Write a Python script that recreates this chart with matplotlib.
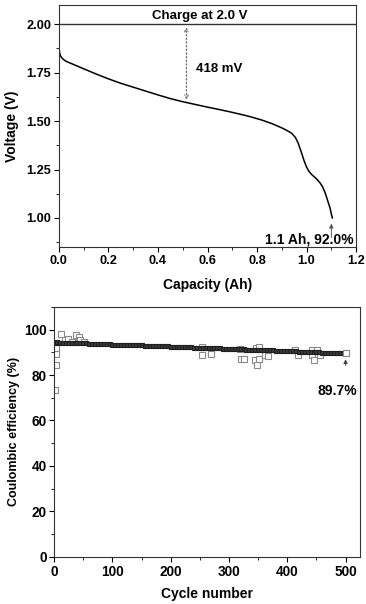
import matplotlib
matplotlib.use('Agg')
import matplotlib.pyplot as plt
from matplotlib.ticker import MultipleLocator
import numpy as np

plt.rcParams['font.family'] = ['Liberation Sans', 'DejaVu Sans']
plt.rcParams['font.weight'] = 'bold'
plt.rcParams['axes.labelweight'] = 'bold'

# discharge curve (capacity in Ah, voltage in V)
cap = [0.0, 0.001, 0.003, 0.007, 0.012, 0.02, 0.03, 0.05, 0.1, 0.15, 0.2, 0.25, 0.3,
       0.35, 0.4, 0.45, 0.5, 0.55, 0.6, 0.65, 0.7, 0.75, 0.78, 0.82, 0.86, 0.9,
       0.92, 0.94, 0.955, 0.965, 0.98, 0.99, 1.0, 1.01, 1.02, 1.04, 1.055, 1.065,
       1.075, 1.085, 1.095, 1.1, 1.104]
volt = [1.905, 1.875, 1.85, 1.835, 1.826, 1.816, 1.808, 1.797, 1.77, 1.743, 1.718, 1.695, 1.675,
        1.655, 1.635, 1.616, 1.600, 1.586, 1.572, 1.559, 1.545, 1.530, 1.52, 1.505, 1.487, 1.465,
        1.452, 1.437, 1.415, 1.39, 1.335, 1.295, 1.262, 1.24, 1.225, 1.202, 1.18, 1.16,
        1.13, 1.09, 1.05, 1.02, 1.0]

# coulombic efficiency, main trend (every 5 cycles)
ce_main = [94.2, 94.4, 94.3, 94.3, 94.2, 94.2, 94.1, 94.1, 94.0, 94.0,
           93.9, 93.9, 93.8, 93.8, 93.7, 93.7, 93.6, 93.6, 93.5, 93.5,
           93.4, 93.4, 93.3, 93.3, 93.2, 93.2, 93.2, 93.1, 93.1, 93.0,
           93.0, 92.9, 92.9, 92.8, 92.8, 92.8, 92.7, 92.7, 92.6, 92.6,
           92.5, 92.5, 92.4, 92.4, 92.3, 92.3, 92.2, 92.2, 92.1, 92.1,
           92.0, 92.0, 91.9, 91.9, 91.8, 91.8, 91.7, 91.7, 91.6, 91.6,
           91.5, 91.5, 91.4, 91.4, 91.3, 91.3, 91.2, 91.2, 91.1, 91.1,
           91.0, 91.0, 90.9, 90.9, 90.8, 90.8, 90.7, 90.7, 90.6, 90.6,
           90.5, 90.5, 90.4, 90.4, 90.3, 90.3, 90.2, 90.2, 90.1, 90.1,
           90.0, 90.0, 89.9, 89.9, 89.9, 89.8, 89.8, 89.8, 89.7, 89.7, 89.7]
cyc_main = np.arange(0, 501, 5)
cyc_main[0] = 1

# scattered cycles
cyc_out = [2, 3, 4, 3, 11, 18, 24, 37, 42, 44, 52, 31, 253, 253, 269, 321, 326, 319,
           345, 348, 351, 346, 351, 361, 367, 413, 419, 442, 446, 443, 451, 456, 500]
ce_out = [73.6, 84.2, 89.4, 91.9, 97.9, 95.6, 95.9, 97.4, 96.8, 95.3, 94.6, 94.4, 89.0, 92.2,
          89.4, 87.1, 87.1, 91.5, 86.8, 84.6, 87.1, 91.9, 92.2, 88.6, 88.3, 91.2, 88.6, 88.6,
          86.4, 91.2, 91.2, 89.0, 89.7]

fig = plt.figure(figsize=(3.66, 6.04), dpi=100)

# top panel
ax1 = fig.add_axes([0.161, 0.591, 0.812, 0.401])
ax1.plot(cap, volt, color='black', lw=1.1)
ax1.axhline(2.0, color='#333333', lw=1.0)
ax1.text(0.57, 2.012, 'Charge at 2.0 V', ha='center', va='bottom', fontsize=9.5)
ax1.annotate('', xy=(0.515, 2.0), xytext=(0.515, 1.595),
             arrowprops=dict(arrowstyle='<->', linestyle=':', color='#777777', lw=1.0,
                             mutation_scale=6))
ax1.text(0.555, 1.77, '418 mV', ha='left', va='center', fontsize=9.5)
ax1.annotate('', xy=(1.1, 0.985), xytext=(1.1, 0.885),
             arrowprops=dict(arrowstyle='-|>', color='#555555', lw=0.7, mutation_scale=6))
ax1.text(1.19, 0.868, '1.1 Ah, 92.0%', ha='right', va='baseline', fontsize=10)
ax1.set_xlim(0, 1.2)
ax1.set_ylim(0.85, 2.1)
ax1.xaxis.set_major_locator(MultipleLocator(0.2))
ax1.xaxis.set_minor_locator(MultipleLocator(0.1))
ax1.yaxis.set_major_locator(MultipleLocator(0.25))
ax1.yaxis.set_minor_locator(MultipleLocator(0.125))
ax1.yaxis.set_major_formatter(plt.FormatStrFormatter('%.2f'))
ax1.set_xlabel('Capacity (Ah)', fontsize=10, labelpad=8)
ax1.set_ylabel('Voltage (V)', fontsize=10, labelpad=5)

# bottom panel
ax2 = fig.add_axes([0.148, 0.078, 0.836, 0.414])
ax2.plot(cyc_out, ce_out, 's', mfc='white', mec='#8a8a8a', ms=3.8, mew=0.8)
ax2.plot(cyc_main, ce_main, 's', mfc='#3a3a3a', mec='#1e1e1e', ms=3.3, mew=0.8)
ax2.plot([500], [89.7], 's', mfc='white', mec='#888888', ms=3.8, mew=0.8)
ax2.annotate('', xy=(500, 88.2), xytext=(500, 83.0),
             arrowprops=dict(arrowstyle='-|>', color='#444444', lw=0.7, mutation_scale=6))
ax2.text(520, 71.4, '89.7%', ha='right', va='baseline', fontsize=10)
ax2.set_xlim(0, 525)
ax2.set_ylim(0, 110)
ax2.xaxis.set_major_locator(MultipleLocator(100))
ax2.xaxis.set_minor_locator(MultipleLocator(50))
ax2.yaxis.set_major_locator(MultipleLocator(20))
ax2.yaxis.set_minor_locator(MultipleLocator(10))
ax2.set_xlabel('Cycle number', fontsize=10, labelpad=6)
ax2.set_ylabel('Coulombic efficiency (%)', fontsize=9, labelpad=3)

for ax, fs in ((ax1, 9.2), (ax2, 9.8)):
    ax.tick_params(which='major', direction='out', length=3.5, width=0.8, labelsize=fs, pad=2)
    ax.tick_params(which='minor', direction='out', length=2, width=0.6)
    for s in ax.spines.values():
        s.set_linewidth(0.8)
        s.set_color('#333333')

fig.savefig('out.png', dpi=100)
